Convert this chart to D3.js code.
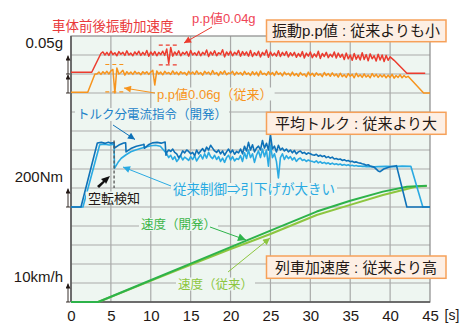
<!DOCTYPE html>
<html><head><meta charset="utf-8">
<script src="https://cdn.jsdelivr.net/npm/d3@7"></script>
<style>
body{margin:0;background:#fff;}
svg{display:block;font-family:"Liberation Sans","Noto Sans CJK JP",sans-serif;}
</style>
</head><body><svg id="c" width="469" height="336"></svg>
<script>
// ---------------- DATA ----------------
const xTicks = [0,5,10,15,20,25,30,35,40,45];
const xUnit = "[s]";
const scaleLabels = ["0.05g","200Nm","10km/h"];

// vehicle fore-aft vibration (g), development (red) : head, sampled 0.25 s from 4.0 s, tail
const redHead = [[0,0.0045],[2.6,0.0045],[3.75,0.054]];
const redStart = 4.0, redStep = 0.25;
const redVals = [
0.058,0.050,0.057,0.049,0.060,0.051,0.056,0.048,0.059,0.052,0.057,0.049,0.061,0.050,0.055,0.048,0.058,0.051,0.060,0.049,0.057,0.050,0.062,0.047,
0.058,0.050,0.059,0.048,0.057,0.051,0.060,0.049,0.066,0.028,0.070,0.047,0.058,0.050,0.061,0.048,0.057,0.052,0.059,0.047,0.062,0.050,0.056,0.049,
0.060,0.048,0.057,0.051,0.063,0.046,0.058,0.050,0.061,0.048,0.056,0.052,0.064,0.045,0.058,0.050,0.060,0.048,0.057,0.051,0.062,0.047,0.059,0.050,
0.058,0.047,0.062,0.046,0.056,0.049,0.060,0.045,0.057,0.050,0.063,0.044,0.058,0.048,0.055,0.047,0.061,0.046,0.057,0.049,0.059,0.045,0.056,0.048,
0.057,0.044,0.054,0.046,0.059,0.042,0.055,0.047,0.058,0.043,0.053,0.045,0.060,0.041,0.054,0.046,0.057,0.043,0.052,0.045,0.058,0.042,0.055,0.044,
0.052,0.038,0.055,0.040,0.050,0.036,0.054,0.039,0.049,0.037,0.056,0.038,0.051,0.035,0.053,0.040,0.048,0.034,0.052,0.037,0.050,0.033,0.049,0.036,
0.045];
const redTail = [[40.5,0.036],[42.1,0.002],[44.4,0.002]];

// conventional (orange)
const orangeHead = [[0,0.002],[2.1,0.002],[3.0,0.050]];
const orangeStart = 3.25, orangeStep = 0.25;
const orangeVals = [
0.050,0.055,0.049,0.056,0.051,0.057,0.050,0.058,0.062,0.000,0.066,0.050,0.054,0.060,0.047,0.056,0.050,0.055,0.049,0.057,0.051,0.054,0.048,0.056,
0.051,0.056,0.049,0.055,0.060,0.021,0.058,0.050,0.055,0.048,0.057,0.051,0.054,0.049,0.058,0.050,0.055,0.048,0.056,0.051,0.054,0.047,0.057,0.050,
0.055,0.049,0.058,0.050,0.054,0.047,0.057,0.051,0.055,0.048,0.059,0.050,0.054,0.046,0.056,0.050,0.058,0.048,0.053,0.051,0.057,0.047,0.055,0.050,
0.054,0.047,0.057,0.049,0.053,0.046,0.056,0.048,0.055,0.045,0.058,0.049,0.052,0.047,0.056,0.048,0.054,0.046,0.057,0.049,0.053,0.045,0.055,0.048,
0.052,0.045,0.055,0.046,0.051,0.044,0.054,0.047,0.050,0.043,0.055,0.046,0.052,0.044,0.053,0.047,0.050,0.043,0.054,0.046,0.051,0.044,0.053,0.045,
0.050,0.042,0.052,0.043,0.048,0.041,0.051,0.044,0.049,0.040,0.052,0.043,0.048,0.041,0.050,0.042,0.047,0.040,0.051,0.043,0.049,0.041,0.048,0.042,
0.048,0.040,0.047,0.041,0.049,0.039,0.046,0.041,0.048,0.040,0.046,0.041,0.044];
const orangeTail = [[44.2,0.0],[45,0.0]];

// torque current command (Nm): development (dark blue)
const devTqHead = [[0,0],[1.25,0],[3.3,674],[3.8,680],[4.3,670],[4.7,682],[5.0,672],[5.4,678],[5.45,621],[6.0,652],[6.6,674],[6.85,676],[6.9,580],[7.5,615],[8.2,640],[9.0,655],[9.15,660],[9.2,618],[9.7,655],[10.2,675],[10.8,680],[11.3,672],[11.8,684],[11.9,545],[12.0,575]];
const tqStart = 12.25, tqStep = 0.25;
const devTqVals = [
600,585,610,575,560,520,545,590,570,600,585,560,
575,540,600,560,590,615,580,630,600,650,620,590,
575,600,560,590,545,580,610,570,600,555,585,570,
610,560,640,590,680,600,655,580,620,640,600,700,
620,670,600,760,610,640,580,650,600,620,590,610,
580,600,570,595,560,580,590,565,575,555,570,560,
550,545,555,535,545,530,540,520,530,515,525,505,
510,500,505,490,498,485,490,478,482,470,475,465,
462,455,450,440,445,432,425,420];
const devTqTail = [[38.5,380],[38.75,372],[39.2,400],[40.0,424],[40.8,435],[42.1,0],[45,0]];

// conventional control (light blue)
const convTqHead = [[0,0],[1.5,0],[3.6,655],[4.2,660],[4.8,652],[5.4,660],[5.45,407],[5.9,470],[6.3,513],[6.9,550],[7.5,582],[8.2,603],[8.8,618],[9.4,632],[10.0,645],[10.6,650],[11.2,640],[11.6,600],[12.0,560]];
const convTqVals = [
520,545,500,530,480,505,540,495,525,510,490,530,
500,540,485,520,550,505,560,515,575,530,510,545,
500,530,480,515,470,520,545,495,530,485,510,500,
540,480,570,510,600,520,560,470,545,590,520,610,
530,600,430,650,520,560,480,305,520,560,500,540,
510,530,495,520,480,505,515,490,500,480,495,485,
480,470,485,465,478,460,470,455,465,450,462,448,
455,445,452,440,448,438,445,435,440,432,436,430,
432,428,430,425,428,424,425,422];
const convTqTail = [[38.5,425],[39.5,428],[40.5,425],[41.5,430],[42.6,428],[44.1,0],[45,0]];

// speed (km/h)
const devSpeed  = [[0,0],[3.4,0],[9.9,11.3],[15,20.2],[20,28.9],[25,37.6],[30.8,47.6],[35,53.3],[39.1,58.1],[42.1,60.7],[43.3,60.9],[44.6,61.2]];
const convSpeed = [[0,0],[3.4,0],[9.9,11.0],[15,19.6],[20,27.9],[22.6,32.0],[25,35.8],[30.8,45.8],[35,51.1],[39.1,56.3],[42.1,59.5],[43.3,60.8],[44.6,61.0]];

// ---------------- LAYOUT ----------------
const svg = d3.select("#c");
const L = 71, R = 430, T = 36, B = 302;
const bg = "#eef6f1";
const x = d3.scaleLinear().domain([0,45]).range([L,R]);
const yGrid = d3.scaleLinear().domain([0,14]).range([B,T]);
const ySpeed = d3.scaleLinear().domain([0,140]).range([B,T]);
const yTq = d3.scaleLinear().domain([-1000,1800]).range([B,T]);
const yRed = d3.scaleLinear().domain([-0.60,0.10]).range([B,T]);
const yOrange = d3.scaleLinear().domain([-0.55,0.15]).range([B,T]);

const C = {red:"#ec3b2e", orange:"#f7941d", dblue:"#0f72b8", lblue:"#2aaae2", dgreen:"#2db34a", lgreen:"#8dc63f", text:"#231815"};

svg.append("rect").attr("x",L).attr("y",T).attr("width",R-L).attr("height",B-T).attr("fill",bg);

// grid
const g = svg.append("g");
g.selectAll(".vg").data(xTicks.slice(1,-1)).enter().append("line")
  .attr("x1",d=>x(d)).attr("x2",d=>x(d)).attr("y1",T).attr("y2",B)
  .attr("stroke","#a9aaa9").attr("stroke-width",1.2);
g.selectAll(".hg").data(d3.range(1,14)).enter().append("line")
  .attr("x1",L).attr("x2",R).attr("y1",d=>yGrid(d)).attr("y2",d=>yGrid(d))
  .attr("stroke","#a9aaa9").attr("stroke-width",1.2);
svg.append("rect").attr("x",L).attr("y",T).attr("width",R-L).attr("height",B-T)
  .attr("fill","none").attr("stroke","#8a8a8a").attr("stroke-width",1.2);
svg.append("line").attr("x1",L).attr("x2",L).attr("y1",T).attr("y2",B).attr("stroke","#555").attr("stroke-width",1.5);
svg.append("line").attr("x1",L).attr("x2",R).attr("y1",B).attr("y2",B).attr("stroke","#555").attr("stroke-width",1.5);

// x axis labels
const xAxis = d3.axisBottom(x).tickValues(xTicks).tickSize(0).tickPadding(0);
const xa = svg.append("g").attr("transform",`translate(0,${B})`).call(xAxis);
xa.select(".domain").remove();
xa.selectAll("text").attr("y",0).attr("dy",0).attr("transform","translate(0,19)")
  .attr("font-size",15).attr("fill",C.text).attr("font-family","Liberation Sans, sans-serif");
svg.append("text").attr("x",452).attr("y",320).attr("text-anchor","middle").attr("font-size",14).attr("fill",C.text).text(xUnit);

// left scale labels
const sl = [[scaleLabels[0],48],[scaleLabels[1],181.5],[scaleLabels[2],281.5]];
sl.forEach(([t,yy])=>svg.append("text").attr("x",63).attr("y",yy).attr("text-anchor","end")
  .attr("font-size",15).attr("fill",C.text).text(t));

// markers
const defs = svg.append("defs");
function marker(id,color,w,h){
  defs.append("marker").attr("id",id).attr("viewBox","0 0 10 10").attr("refX",10).attr("refY",5)
   .attr("markerWidth",w).attr("markerHeight",h).attr("markerUnits","userSpaceOnUse").attr("orient","auto")
   .append("path").attr("d","M0,0L10,5L0,10Z").attr("fill",color);
}
marker("mk",C.text,5,5);
marker("mr",C.red,9,7);
marker("mo",C.orange,9,7);
marker("mb",C.dblue,9,7);
marker("ml",C.lblue,9,7);
marker("mg",C.dgreen,10,8);
marker("mlg",C.lgreen,9,7);

// small scale arrows at left
[[11,12],[12,13],[5,6],[0,1]].forEach(([a,b])=>{
  svg.append("line").attr("x1",68).attr("x2",68).attr("y1",yGrid(a)).attr("y2",yGrid(b)+0.5)
   .attr("stroke",C.text).attr("stroke-width",0.9).attr("marker-end","url(#mk)");
  svg.append("line").attr("x1",66).attr("x2",70).attr("y1",yGrid(a)).attr("y2",yGrid(a)).attr("stroke",C.text).attr("stroke-width",0.9);
});

// ---------------- SERIES ----------------
function sampled(start,step,vals){ return vals.map((v,i)=>[start+i*step,v]); }
const redSeries = redHead.concat(sampled(redStart,redStep,redVals), redTail);
const orangeSeries = orangeHead.concat(sampled(orangeStart,orangeStep,orangeVals), orangeTail);
const devTq = devTqHead.concat(sampled(tqStart,tqStep,devTqVals), devTqTail);
const convTq = convTqHead.concat(sampled(tqStart,tqStep,convTqVals), convTqTail);

function draw(data,ys,color,w){
  svg.append("path").datum(data).attr("fill","none").attr("stroke",color).attr("stroke-width",w)
    .attr("stroke-linejoin","round")
    .attr("d",d3.line().x(d=>x(d[0])).y(d=>ys(d[1])));
}
draw(convSpeed,ySpeed,C.lgreen,2);
draw(devSpeed,ySpeed,C.dgreen,2);
draw(convTq,yTq,C.lblue,1.6);
draw(devTq,yTq,C.dblue,1.6);
draw(orangeSeries,yOrange,C.orange,1.5);
draw(redSeries,yRed,C.red,1.5);

// p.p dashes
function dash(x1,x2,yy,color){ svg.append("line").attr("x1",x1).attr("x2",x2).attr("y1",yy).attr("y2",yy)
  .attr("stroke",color).attr("stroke-width",1.1).attr("stroke-dasharray","4,3"); }
dash(x(11.0),x(13.4),yRed(0.076),C.red);
dash(x(11.0),x(13.4),yRed(0.024),C.red);
dash(x(4.3),x(6.6),yOrange(0.075),C.orange);
dash(x(4.3),x(6.6),yOrange(0.003),C.orange);

// slip detection dashed line
svg.append("line").attr("x1",x(5.4)).attr("x2",x(5.4)).attr("y1",yTq(700)).attr("y2",yTq(200))
  .attr("stroke","#555").attr("stroke-width",1.3).attr("stroke-dasharray","3,2");

// ---------------- LABELS ----------------
function label(txt,xx,yy,color,size,mask){
  const t = svg.append("text").attr("x",xx).attr("y",yy).attr("font-size",size).attr("fill",color).text(txt);
  if(mask){
    const bb = t.node().getBBox();
    svg.insert("rect",()=>t.node()).attr("x",bb.x-2).attr("y",bb.y+1).attr("width",bb.width+4).attr("height",bb.height-2).attr("fill",bg);
  }
  return t;
}
label("車体前後振動加速度",52,31,"#e9393b",13.5,false);
label("p.p値0.04g",192,23,"#ef4456",13,false);
label("p.p値0.06g（従来）",157,98.5,C.orange,13,true);
label("トルク分電流指令（開発）",77,119,"#1d82c8",12.5,true);
label("空転検知",88,202.5,C.text,13,true);
label("従来制御⇒引下げが大きい",173,194,C.lblue,13.5,true);
label("速度（開発）",141,229,"#3db54a",12.5,true);
label("速度（従来）",178,288.5,"#8cc63f",12.5,true);

// arrows
function arrow(x1,y1,x2,y2,color,mk,w){
  svg.append("line").attr("x1",x1).attr("y1",y1).attr("x2",x2).attr("y2",y2)
   .attr("stroke",color).attr("stroke-width",w||1).attr("marker-end",`url(#${mk})`);
}
arrow(212,27,184,43,C.red,"mr");
arrow(155,93,124,88,C.orange,"mo");
arrow(113,125,135,139.5,C.dblue,"mb");
arrow(171,186,123,167,C.lblue,"ml");
arrow(210,227,246,240,C.dgreen,"mg");
arrow(228,272,270,238,C.lgreen,"mlg");
// bold black arrow for slip detection
svg.append("path").attr("d","M97,186 L103,181 L101,179 L110,176 L106,184 L105,182 L99,188 Z").attr("fill","#111");

// boxes
function box(y1,y2,txt,base){
  svg.append("rect").attr("x",266.5).attr("y",y1).attr("width",179.5).attr("height",y2-y1)
    .attr("fill","#fdefe4").attr("stroke","#f6a159").attr("stroke-width",1.5);
  svg.append("text").attr("x",356).attr("y",base).attr("text-anchor","middle").attr("font-size",15)
    .attr("fill",C.text).text(txt);
}
box(20,41.7,"振動p.p値 : 従来よりも小",36);
box(112.3,134.3,"平均トルク : 従来より大",129);
box(256,278.3,"列車加速度 : 従来より高",272.5);
</script></body></html>
